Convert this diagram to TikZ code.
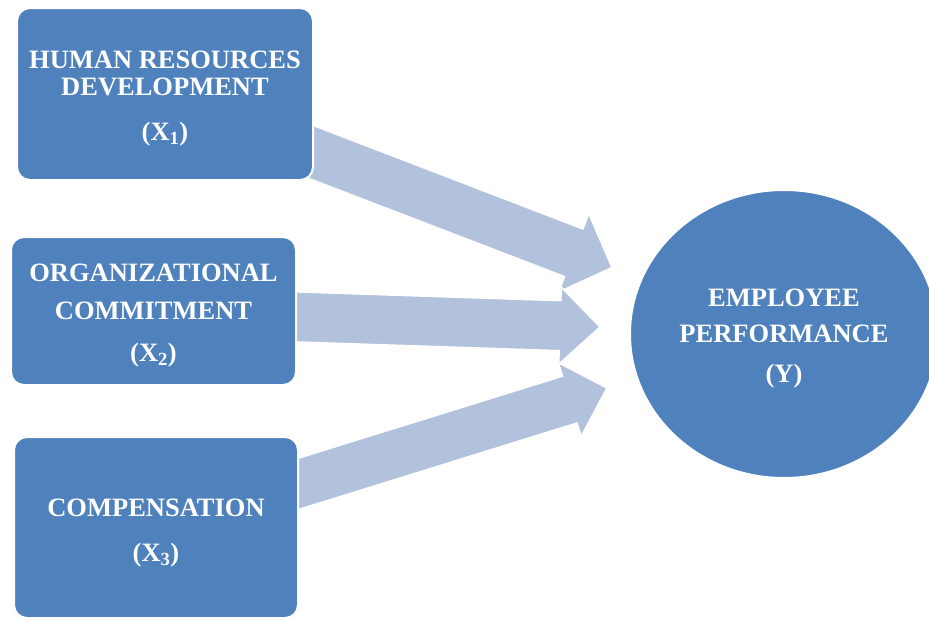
\documentclass[tikz,border=0pt]{standalone}
\usepackage{fontspec}
\setmainfont{Liberation Serif}
\usetikzlibrary{calc,shapes.geometric}
\definecolor{boxblue}{HTML}{4F81BD}
\definecolor{arrblue}{HTML}{B2C1DC}
% #1 name, #2 tail, #3 tip, #4 body half-width, #5 head half-width, #6 head length
\newcommand\blockarr[6]{%
  \coordinate (#1-hb) at ($(#3)!#6!(#2)$);
  \path[arrowfill] ($(#2)!#4!90:(#3)$) -- ($(#1-hb)!#4!90:(#3)$)
     -- ($(#1-hb)!#5!90:(#3)$) -- (#3) -- ($(#1-hb)!#5!-90:(#3)$)
     -- ($(#1-hb)!#4!-90:(#3)$) -- ($(#2)!#4!-90:(#3)$) -- cycle;
}
\begin{document}
\begin{tikzpicture}[x=1pt,y=-1pt,
  box/.style={fill=boxblue, draw=white, line width=2pt, rounded corners=13pt,
    inner sep=0pt},
  target/.style={ellipse, fill=boxblue, draw=white, line width=2pt,
    inner sep=0pt},
  lbl/.style={inner sep=0pt, text=white, align=center,
    font=\fontsize{26.5}{27}\selectfont\bfseries},
  arrowfill/.style={fill=arrblue, draw=white, line width=1.5pt, line join=miter}]
\useasboundingbox (0,0) rectangle (929,619);
% arrows (drawn first, tails hidden under boxes)
\coordinate (t1) at (300,147.7); \coordinate (p1) at (612,267.5);
\coordinate (t2) at (290,316.7); \coordinate (p2) at (600,327);
\coordinate (t3) at (290,486.5); \coordinate (p3) at (607,388);
\blockarr{a1}{t1}{p1}{25.5pt}{42pt}{41pt}
\blockarr{a2}{t2}{p2}{25pt}{38.5pt}{40pt}
\blockarr{a3}{t3}{p3}{24.5pt}{38.5pt}{39pt}
% boxes
\node[box, minimum width=296pt, minimum height=172pt] (x1) at (165,94) {};
\node[box, minimum width=285pt, minimum height=148pt] (x2) at (153.5,311) {};
\node[box, minimum width=284pt, minimum height=181pt] (x3) at (156,527.5) {};
\node[target, minimum width=308pt, minimum height=288pt] (y) at (784,334) {};
% labels
\node[lbl] (x1t) at ($(x1.center)+(0,5)$)
  {HUMAN RESOURCES\\DEVELOPMENT\\[18pt](X\textsubscript{1})};
\node[lbl] (x2t) at ($(x2.center)+(0,5)$)
  {ORGANIZATIONAL\\[11pt]COMMITMENT\\[15pt](X\textsubscript{2})};
\node[lbl] (x3t) at ($(x3.center)+(0,6)$)
  {COMPENSATION\\[18pt](X\textsubscript{3})};
\node[lbl] (yt) at ($(y.center)+(0,5)$)
  {EMPLOYEE\\[9pt]PERFORMANCE\\[13pt](Y)};
\end{tikzpicture}
\end{document}
